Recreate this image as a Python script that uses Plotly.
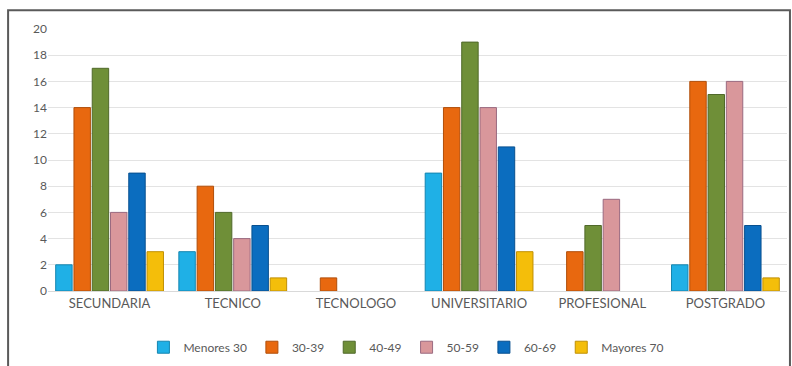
import plotly.graph_objects as go

categories = ["SECUNDARIA", "TECNICO", "TECNOLOGO", "UNIVERSITARIO", "PROFESIONAL", "POSTGRADO"]
series_names = ["Menores 30", "30-39", "40-49", "50-59", "60-69", "Mayores 70"]
menores_30 = [2, 3, 0, 9, 0, 2]
r30_39 = [14, 8, 1, 14, 3, 16]
r40_49 = [17, 6, 0, 19, 5, 15]
r50_59 = [6, 4, 0, 14, 7, 16]
r60_69 = [9, 5, 0, 11, 0, 5]
mayores_70 = [3, 1, 0, 3, 0, 1]
series_values = [menores_30, r30_39, r40_49, r50_59, r60_69, mayores_70]
y_ticks = [0, 2, 4, 6, 8, 10, 12, 14, 16, 18, 20]

colors = ["#1FB0E6", "#E8680F", "#6F8F38", "#D9979B", "#0B6DBF", "#F4BE0A"]
edges = ["#1585B0", "#B04E0A", "#50692A", "#9A6A80", "#08508F", "#C09005"]

fig = go.Figure()
for name, vals, c, e in zip(series_names, series_values, colors, edges):
    fig.add_trace(go.Bar(
        x=categories, y=vals, name=name,
        marker=dict(color=c, line=dict(color=e, width=[0 if v == 0 else 1 for v in vals])),
    ))

fig.update_layout(
    width=792, height=366,
    margin=dict(l=48, r=5, t=29, b=74),
    barmode="group", bargap=0.11, bargroupgap=0.1,
    plot_bgcolor="white", paper_bgcolor="white",
    font=dict(family="Lato, Open Sans, sans-serif", size=12, color="#595959"),
    showlegend=True,
    legend=dict(orientation="h", x=0.485, xanchor="center", y=-0.21, yanchor="middle",
                font=dict(size=12, color="#595959"), itemwidth=30, traceorder="normal",
                tracegroupgap=0),
    xaxis=dict(showline=True, linecolor="#D9D9D9", ticks="", tickfont=dict(size=13, color="#595959")),
    yaxis=dict(range=[0, 20], tickvals=y_ticks, showgrid=True, gridcolor="#E3E3E3", gridwidth=1,
               zeroline=False, ticks="", tickfont=dict(size=12, color="#595959")),
    shapes=[dict(type="rect", xref="paper", yref="paper", x0=-0.054, x1=1.004, y0=-0.4, y1=1.072,
                 line=dict(color="#5A5A5A", width=2), fillcolor="rgba(0,0,0,0)", layer="above")],
)

fig.write_html("out.html")
